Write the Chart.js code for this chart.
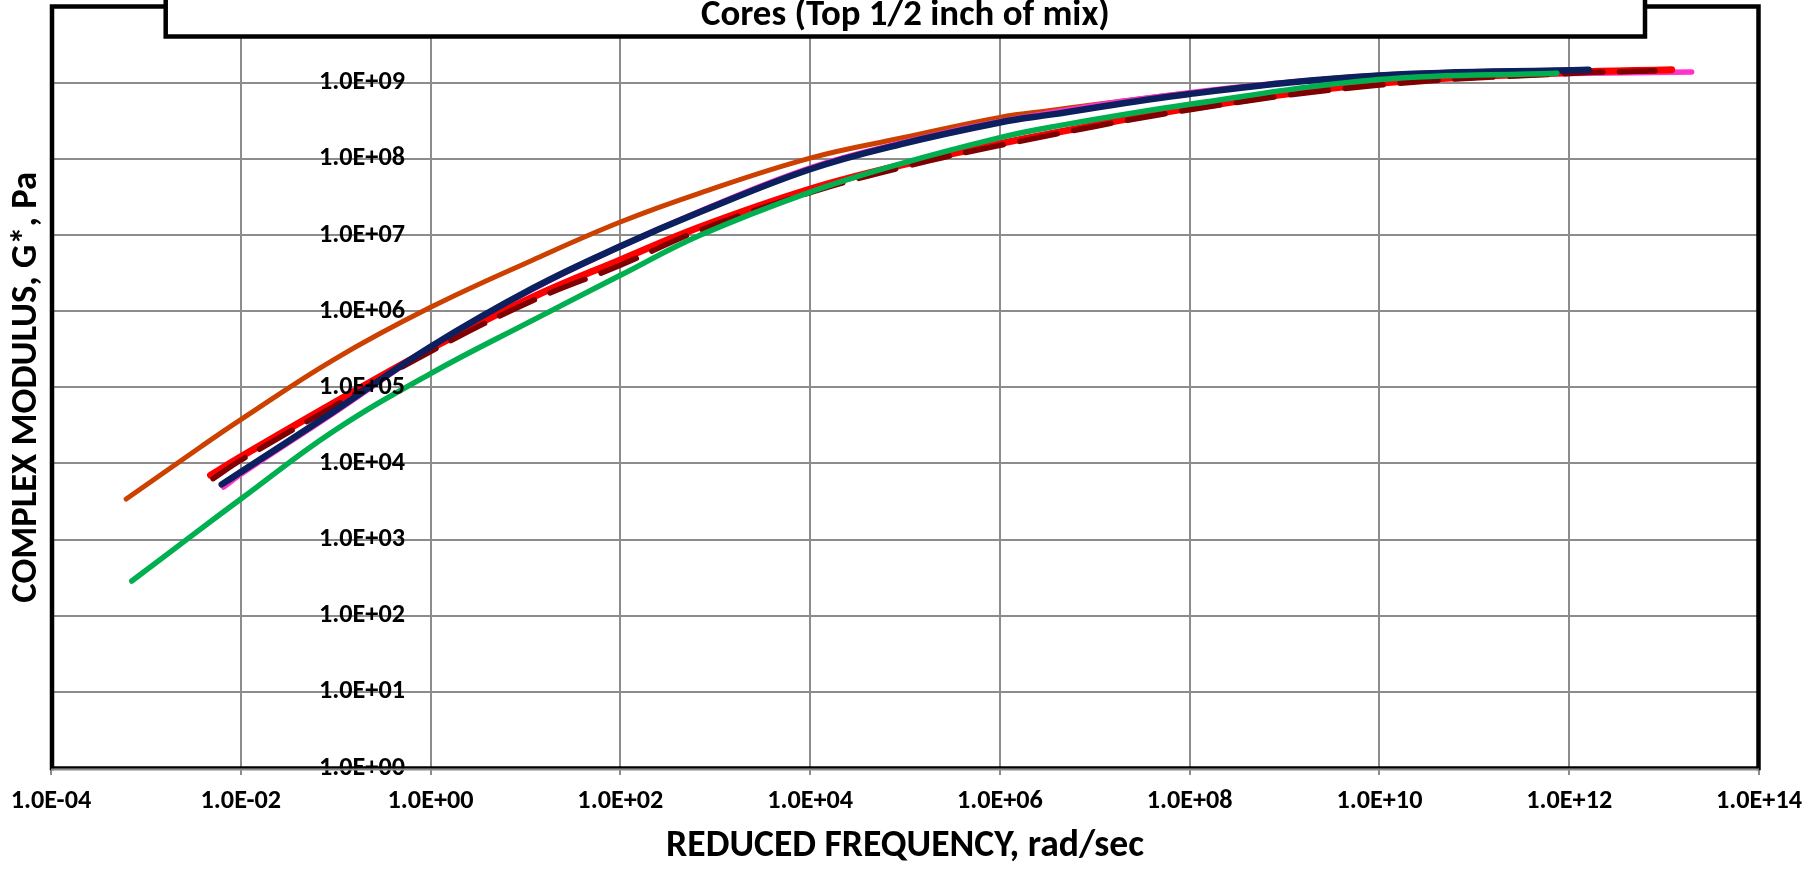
<!DOCTYPE html>
<html><head><meta charset="utf-8">
<script src="https://cdn.jsdelivr.net/npm/chart.js@4.4.1/dist/chart.umd.min.js"></script>
<style>html,body{margin:0;padding:0;background:#fff;overflow:hidden}</style>
</head><body>
<canvas id="c" width="1818" height="869"></canvas>
<script>
// ---- text ----
const chartTitle = 'Cores (Top 1/2 inch of mix)';
const xAxisTitle = 'REDUCED FREQUENCY, rad/sec';
const yAxisTitle = 'COMPLEX MODULUS, G*, Pa';

// ---- ticks ----
const xTickValues = [1e-4, 1e-2, 1e0, 1e2, 1e4, 1e6, 1e8, 1e10, 1e12, 1e14];
const xTickLabels = ['1.0E-04','1.0E-02','1.0E+00','1.0E+02','1.0E+04','1.0E+06','1.0E+08','1.0E+10','1.0E+12','1.0E+14'];
const yTickValues = [1e0, 1e1, 1e2, 1e3, 1e4, 1e5, 1e6, 1e7, 1e8, 1e9, 1e10];
const yTickLabels = ['1.0E+00','1.0E+01','1.0E+02','1.0E+03','1.0E+04','1.0E+05','1.0E+06','1.0E+07','1.0E+08','1.0E+09','1.0E+10'];

// ---- series (reduced frequency, rad/sec ; |G*|, Pa) ----
const orangeFreq = [6.2e-4, 3.7e-3, 1.0e-2, 9.3e-2, 1, 12, 100, 690, 1e4, 8.9e4, 1e6, 3.4e6, 1e8, 1e10, 1.6e12];
const orangeG    = [3.4e3, 1.62e4, 3.76e4, 2.26e5, 1.12e6, 4.7e6, 1.48e7, 3.55e7, 1.02e8, 1.86e8, 3.5e8, 4.3e8, 7.3e8, 1.26e9, 1.48e9];

const navyFreq = [6.3e-3, 1e-2, 9.3e-2, 1, 12, 100, 690, 1e4, 8.9e4, 1e6, 3.4e6, 1e8, 1e10, 1.6e12];
const navyG    = [5.3e3, 7.7e3, 4.7e4, 3.4e5, 2.0e6, 7.1e6, 2.0e7, 7.3e7, 1.55e8, 3.0e8, 3.8e8, 7.1e8, 1.24e9, 1.48e9];

const pinkFreq = [6.6e-3, 1e-2, 9.3e-2, 1, 12, 100, 690, 1e4, 8.9e4, 1e6, 1e8, 1e10, 1e12, 1.95e13];
const pinkG    = [4.9e3, 7.2e3, 4.5e4, 3.3e5, 1.95e6, 7.0e6, 2.05e7, 7.6e7, 1.6e8, 3.1e8, 7.4e8, 1.2e9, 1.32e9, 1.38e9];

const redFreq = [4.8e-3, 1e-2, 9.3e-2, 1, 12, 100, 690, 1e4, 8.9e4, 1e6, 3.4e6, 1e8, 1e10, 1e12, 1.2e13];
const redG    = [7.0e3, 1.22e4, 6.1e4, 3.2e5, 1.53e6, 4.7e6, 1.27e7, 4.0e7, 8.2e7, 1.58e8, 2.14e8, 4.6e8, 9.8e8, 1.36e9, 1.48e9];

const darkRedFreq = [5.1e-3, 1e-2, 9.3e-2, 1, 12, 100, 690, 1e4, 8.9e4, 1e6, 1e8, 1e10, 1e12, 8e12];
const darkRedG    = [6.3e3, 1.1e4, 5.5e4, 2.95e5, 1.38e6, 4.0e6, 1.15e7, 3.6e7, 7.6e7, 1.5e8, 4.4e8, 9.3e8, 1.32e9, 1.43e9];

const greenFreq = [7.1e-4, 3.7e-3, 1e-2, 9.3e-2, 1, 12, 100, 690, 1e4, 8.9e4, 1e6, 3.4e6, 1e8, 1e10, 7.4e11];
const greenG    = [2.85e2, 1.35e3, 3.4e3, 2.6e4, 1.51e5, 7.6e5, 2.95e6, 9.9e6, 3.66e7, 8.6e7, 1.9e8, 2.6e8, 5.2e8, 1.1e9, 1.33e9];

// ---- font fitting (match reference text widths) ----
const FAMILY = 'Carlito, Calibri, Lato, sans-serif';
const mctx = document.createElement('canvas').getContext('2d');
function fitSize(text, target) {
  mctx.font = 'bold 100px ' + FAMILY;
  return 100 * target / mctx.measureText(text).width;
}
const titleSize = fitSize(chartTitle, 409);
const xTitleSize = fitSize(xAxisTitle, 478);
const yTitleSize = fitSize(yAxisTitle, 431);
const tickSize = fitSize('1.0E+09', 86);

function series(xs, ys, color, width, dash) {
  return {
    data: xs.map((x, i) => ({x: x, y: ys[i]})),
    borderColor: color, backgroundColor: color, borderWidth: width,
    borderDash: dash || [], pointRadius: 0, pointHoverRadius: 0,
    showLine: true, fill: false, tension: 0.4,
    borderCapStyle: 'round', borderJoinStyle: 'round'
  };
}

const framePlugin = {
  id: 'frame',
  afterDraw(chart) {
    const {ctx, chartArea: a} = chart;
    ctx.save();
    // plot frame
    ctx.strokeStyle = '#000';
    ctx.lineWidth = 4.5;
    ctx.lineCap = 'square';
    ctx.beginPath();
    ctx.moveTo(a.left + 1, a.bottom);
    ctx.lineTo(a.left + 1, a.top);
    ctx.lineTo(a.right - 0.5, a.top);
    ctx.lineTo(a.right - 0.5, a.bottom);
    ctx.stroke();
    ctx.lineCap = 'butt';
    ctx.lineWidth = 2.5;
    ctx.beginPath();
    ctx.moveTo(a.left, a.bottom - 0.5);
    ctx.lineTo(a.right, a.bottom - 0.5);
    ctx.stroke();
    ctx.strokeStyle = '#8c8c8c';
    ctx.lineWidth = 2;
    ctx.beginPath();
    ctx.moveTo(a.left, a.bottom + 1.5);
    ctx.lineTo(a.right, a.bottom + 1.5);
    ctx.stroke();
    // title box
    const bx0 = a.left + 114.7, bx1 = a.right - 114, by1 = 36.5;
    ctx.fillStyle = '#fff';
    ctx.fillRect(bx0, -10, bx1 - bx0, by1 + 10);
    ctx.strokeStyle = '#000';
    ctx.lineWidth = 4.5;
    ctx.strokeRect(bx0, -10, bx1 - bx0, by1 + 10);
    ctx.fillStyle = '#000';
    ctx.font = 'bold ' + titleSize + 'px ' + FAMILY;
    ctx.textAlign = 'center';
    ctx.textBaseline = 'alphabetic';
    ctx.fillText(chartTitle, (bx0 + bx1) / 2, 25);
    ctx.restore();
  }
};

const gridColor = '#8c8c8c';
new Chart(document.getElementById('c'), {
  type: 'scatter',
  data: {
    datasets: [
      series(greenFreq, greenG, '#00B050', 5.5),
      series(navyFreq, navyG, '#0C1F5F', 6.5),
      series(darkRedFreq, darkRedG, '#7F0000', 5.5, [38, 17]),
      series(redFreq, redG, '#FF0000', 7),
      series(pinkFreq, pinkG, '#FF33CC', 5.5),
      series(orangeFreq, orangeG, '#CC4000', 5)
    ]
  },
  options: {
    responsive: false, animation: false, devicePixelRatio: 1,
    layout: {padding: {left: 0, right: 59, top: 6.5, bottom: 0}},
    plugins: {legend: {display: false}, tooltip: {enabled: false}, title: {display: false}},
    events: [],
    scales: {
      x: {
        type: 'logarithmic', position: 'bottom', min: 1e-4, max: 1e14,
        afterBuildTicks: s => { s.ticks = xTickValues.map(v => ({value: v})); },
        afterFit: s => { s.height = 101; s.paddingLeft = 0; s.paddingRight = 0; },
        ticks: {
          autoSkip: false, maxRotation: 0, minRotation: 0,
          padding: 26 - 0.6 * tickSize, color: '#000',
          font: {family: FAMILY, weight: 'bold', size: tickSize, lineHeight: 1.2},
          callback: (v, i) => xTickLabels[i]
        },
        grid: {color: gridColor, lineWidth: 2, drawTicks: true, tickLength: 7},
        border: {display: false},
        title: {
          display: true, text: xAxisTitle, color: '#000',
          font: {family: FAMILY, weight: 'bold', size: xTitleSize, lineHeight: 1.2},
          padding: {top: 0, bottom: Math.max(0, 17 - 0.6 * xTitleSize)}
        }
      },
      y: {
        type: 'logarithmic', position: 'left', min: 1, max: 1e10,
        afterBuildTicks: s => { s.ticks = yTickValues.map(v => ({value: v})); },
        afterFit: s => { s.width = 51; s.paddingTop = 0; s.paddingBottom = 0; },
        ticks: {
          autoSkip: false, mirror: true, padding: 268, z: 1, color: '#000',
          font: {family: FAMILY, weight: 'bold', size: tickSize, lineHeight: 1.2},
          callback: (v, i) => yTickLabels[i]
        },
        grid: {color: gridColor, lineWidth: 2, drawTicks: false},
        border: {display: false},
        title: {
          display: true, text: yAxisTitle, color: '#000',
          font: {family: FAMILY, weight: 'bold', size: yTitleSize, lineHeight: 1.2},
          padding: {top: Math.max(0, 26.5 - 0.6 * yTitleSize), bottom: 0}
        }
      }
    }
  },
  plugins: [framePlugin]
});
</script>
</body></html>
